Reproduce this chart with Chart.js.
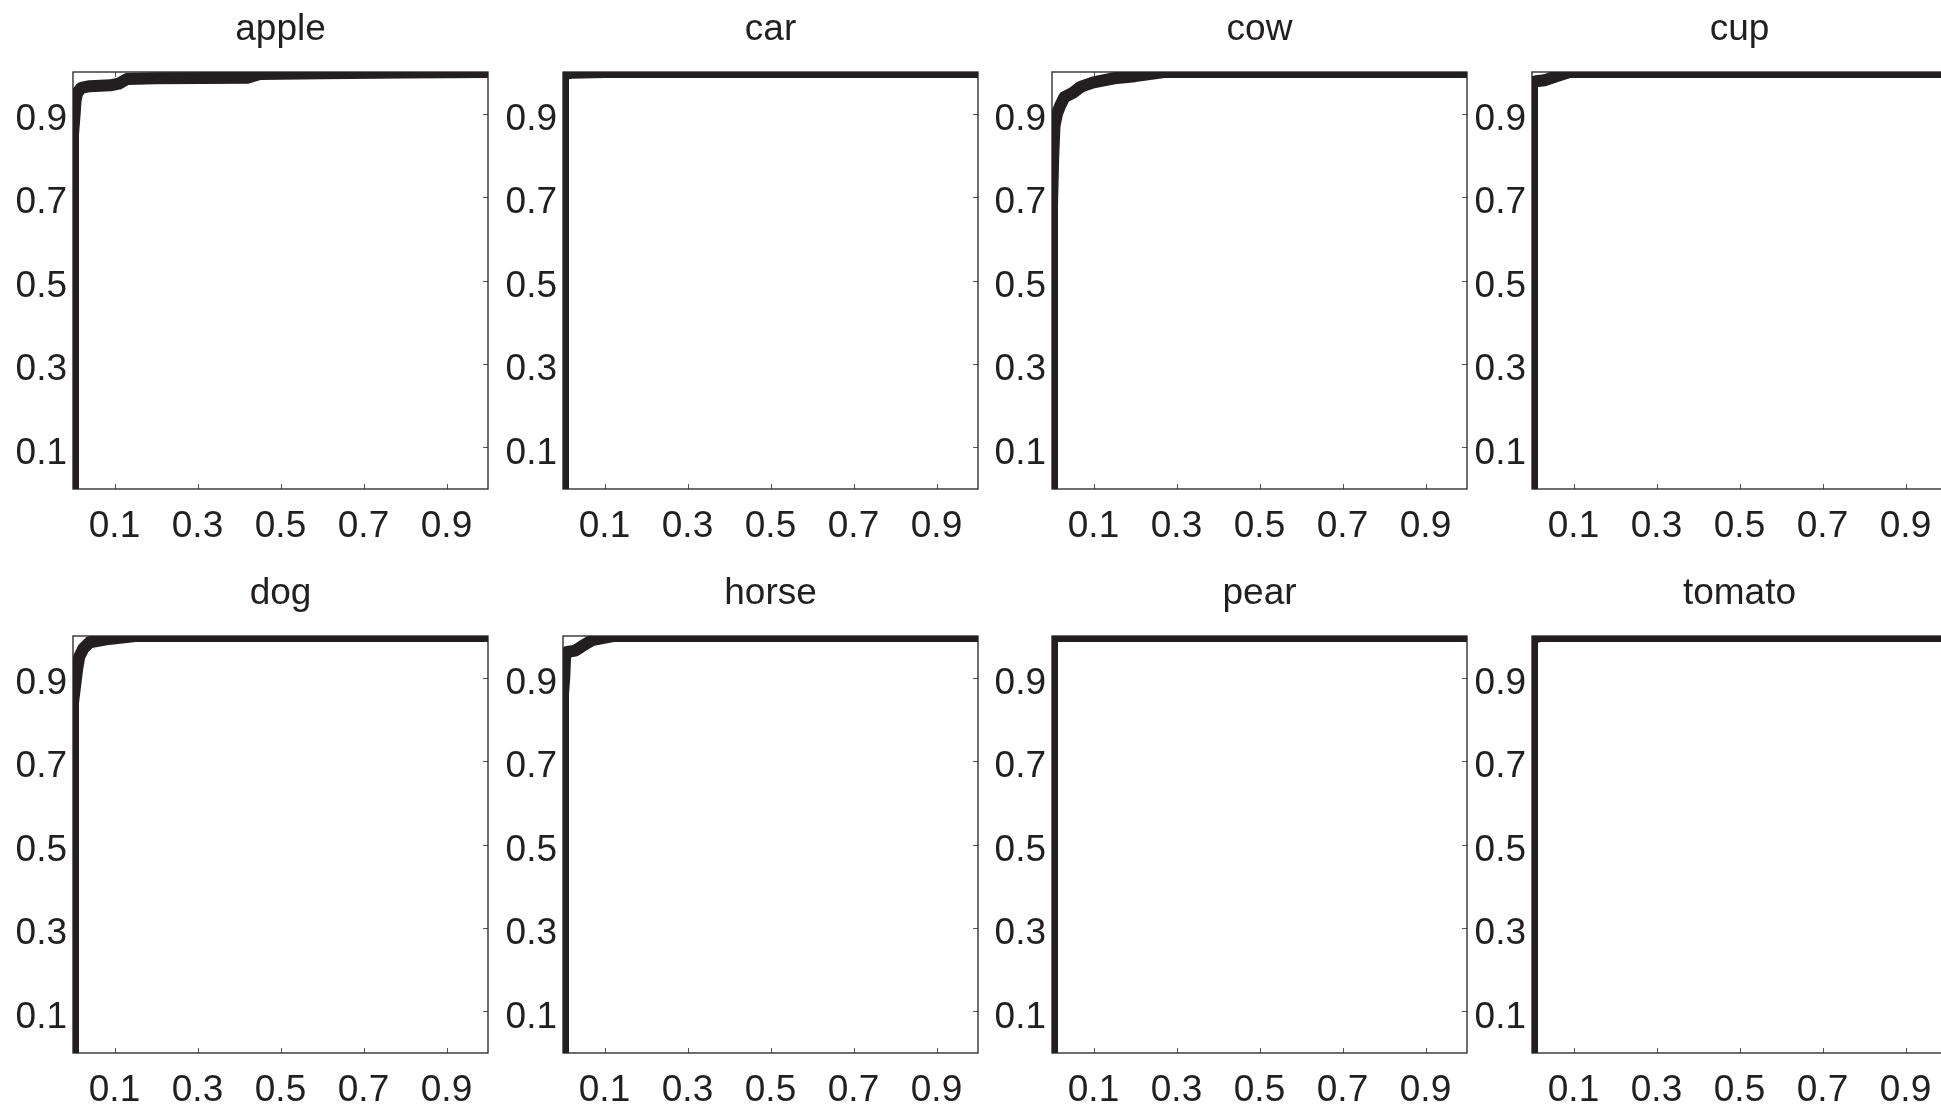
<!DOCTYPE html>
<html>
<head>
<meta charset="utf-8">
<script src="https://cdn.jsdelivr.net/npm/chart.js@4.4.0/dist/chart.umd.min.js"></script>
<style>
  html, body { margin: 0; padding: 0; background: #fff; overflow: hidden; width: 1941px; height: 1107px; }
  .panel { position: absolute; }
</style>
</head>
<body>
<script>
// ROC curves, one panel per category (x = false positive rate, y = true positive rate)
const categories = ['apple', 'car', 'cow', 'cup', 'dog', 'horse', 'pear', 'tomato'];
const xTicks = [0.1, 0.3, 0.5, 0.7, 0.9];
const yTicks = [0.1, 0.3, 0.5, 0.7, 0.9];

const appleX = [0, 0, 0.004, 0.006, 0.01, 0.02, 0.04, 0.09, 0.11, 0.13, 0.2, 0.42, 0.45, 0.6, 0.8, 1];
const appleY = [0, 0.85, 0.9, 0.93, 0.95, 0.962, 0.966, 0.968, 0.972, 0.983, 0.985, 0.986, 0.995, 0.997, 0.999, 1];
const carX = [0, 0, 0.02, 0.1, 1];
const carY = [0, 0.995, 0.998, 1, 1];
const cowX = [0, 0, 0.003, 0.006, 0.012, 0.02, 0.03, 0.05, 0.07, 0.1, 0.15, 0.2, 0.27, 1];
const cowY = [0, 0.68, 0.8, 0.87, 0.9, 0.92, 0.94, 0.95, 0.965, 0.975, 0.985, 0.99, 1, 1];
const cupX = [0, 0, 0.01, 0.03, 0.06, 0.09, 1];
const cupY = [0, 0.975, 0.978, 0.98, 0.99, 1, 1];
const dogX = [0, 0, 0.005, 0.01, 0.015, 0.025, 0.04, 0.08, 0.15, 1];
const dogY = [0, 0.84, 0.88, 0.92, 0.95, 0.97, 0.985, 0.992, 1, 1];
const horseX = [0, 0, 0.003, 0.005, 0.01, 0.03, 0.045, 0.07, 0.12, 1];
const horseY = [0, 0.86, 0.9, 0.95, 0.962, 0.965, 0.975, 0.99, 1, 1];
const pearX = [0, 0, 1];
const pearY = [0, 1, 1];
const tomatoX = [0, 0, 0.02, 1];
const tomatoY = [0, 0.995, 1, 1];

const curves = {
    apple: [appleX, appleY], car: [carX, carY], cow: [cowX, cowY], cup: [cupX, cupY],
    dog: [dogX, dogY], horse: [horseX, horseY], pear: [pearX, pearY], tomato: [tomatoX, tomatoY]
};

const ink = '#231f20';
const colLeft = [73, 563, 1052, 1532];
const rowTop = [72, 636];
const plotW = 415, plotH = 417;
const yAxisW = 70, titleH = 72, xAxisH = 60, padRight = 10;
const tickFont = { family: 'Liberation Sans', size: 37 };

// box round the axes plus small inward tick marks on all four sides
const frameTicks = {
    id: 'frameTicks',
    beforeDatasetsDraw(chart) {
        const { ctx, chartArea: a, scales: { x, y } } = chart;
        ctx.save();
        ctx.strokeStyle = '#555';
        ctx.lineWidth = 1;
        ctx.beginPath();
        x.ticks.forEach(t => {
            const px = Math.round(x.getPixelForValue(t.value)) + 0.5;
            ctx.moveTo(px, a.bottom); ctx.lineTo(px, a.bottom - 5);
            ctx.moveTo(px, a.top); ctx.lineTo(px, a.top + 5);
        });
        y.ticks.forEach(t => {
            const py = Math.round(y.getPixelForValue(t.value)) + 0.5;
            ctx.moveTo(a.left, py); ctx.lineTo(a.left + 5, py);
            ctx.moveTo(a.right, py); ctx.lineTo(a.right - 5, py);
        });
        ctx.stroke();
        ctx.strokeStyle = ink;
        ctx.lineWidth = 1.3;
        ctx.strokeRect(a.left, a.top, a.width, a.height);
        ctx.restore();
    }
};

function makePanel(name, i) {
    const col = i % 4, row = Math.floor(i / 4);
    const div = document.createElement('div');
    div.className = 'panel';
    div.style.left = (colLeft[col] - yAxisW) + 'px';
    div.style.top = (rowTop[row] - titleH) + 'px';
    const canvas = document.createElement('canvas');
    canvas.width = yAxisW + plotW + padRight;
    canvas.height = titleH + plotH + xAxisH;
    div.appendChild(canvas);
    document.body.appendChild(div);

    const [xs, ys] = curves[name];
    return new Chart(canvas, {
        type: 'line',
        data: {
            datasets: [{
                data: xs.map((v, k) => ({ x: v, y: ys[k] })),
                borderColor: ink,
                borderWidth: 12,
                borderJoinStyle: 'round',
                pointRadius: 0,
                tension: 0,
                clip: 0
            }]
        },
        options: {
            responsive: false,
            animation: false,
            layout: { padding: { left: 0, right: padRight, top: 0, bottom: 0 } },
            scales: {
                x: {
                    type: 'linear', min: 0, max: 1,
                    afterBuildTicks: s => { s.ticks = xTicks.map(v => ({ value: v })); },
                    afterFit: s => { s.height = xAxisH; },
                    grid: { display: false, drawTicks: false },
                    border: { display: false },
                    ticks: { padding: 16, color: ink, font: tickFont, callback: v => v.toFixed(1) }
                },
                y: {
                    type: 'linear', min: 0, max: 1,
                    afterBuildTicks: s => { s.ticks = yTicks.map(v => ({ value: v })); },
                    afterFit: s => { s.width = yAxisW; },
                    grid: { display: false, drawTicks: false },
                    border: { display: false },
                    ticks: { padding: 6, labelOffset: 6, color: ink, font: tickFont, callback: v => v.toFixed(1) }
                }
            },
            plugins: {
                legend: { display: false },
                tooltip: { enabled: false },
                title: {
                    display: true,
                    text: name,
                    fullSize: false,
                    color: ink,
                    font: { family: 'Liberation Sans', size: 37, weight: 'normal', lineHeight: 1.2 },
                    padding: { top: 7.5, bottom: titleH - 44.4 - 7.5 }
                }
            }
        },
        plugins: [frameTicks]
    });
}

categories.forEach(makePanel);
</script>
</body>
</html>
